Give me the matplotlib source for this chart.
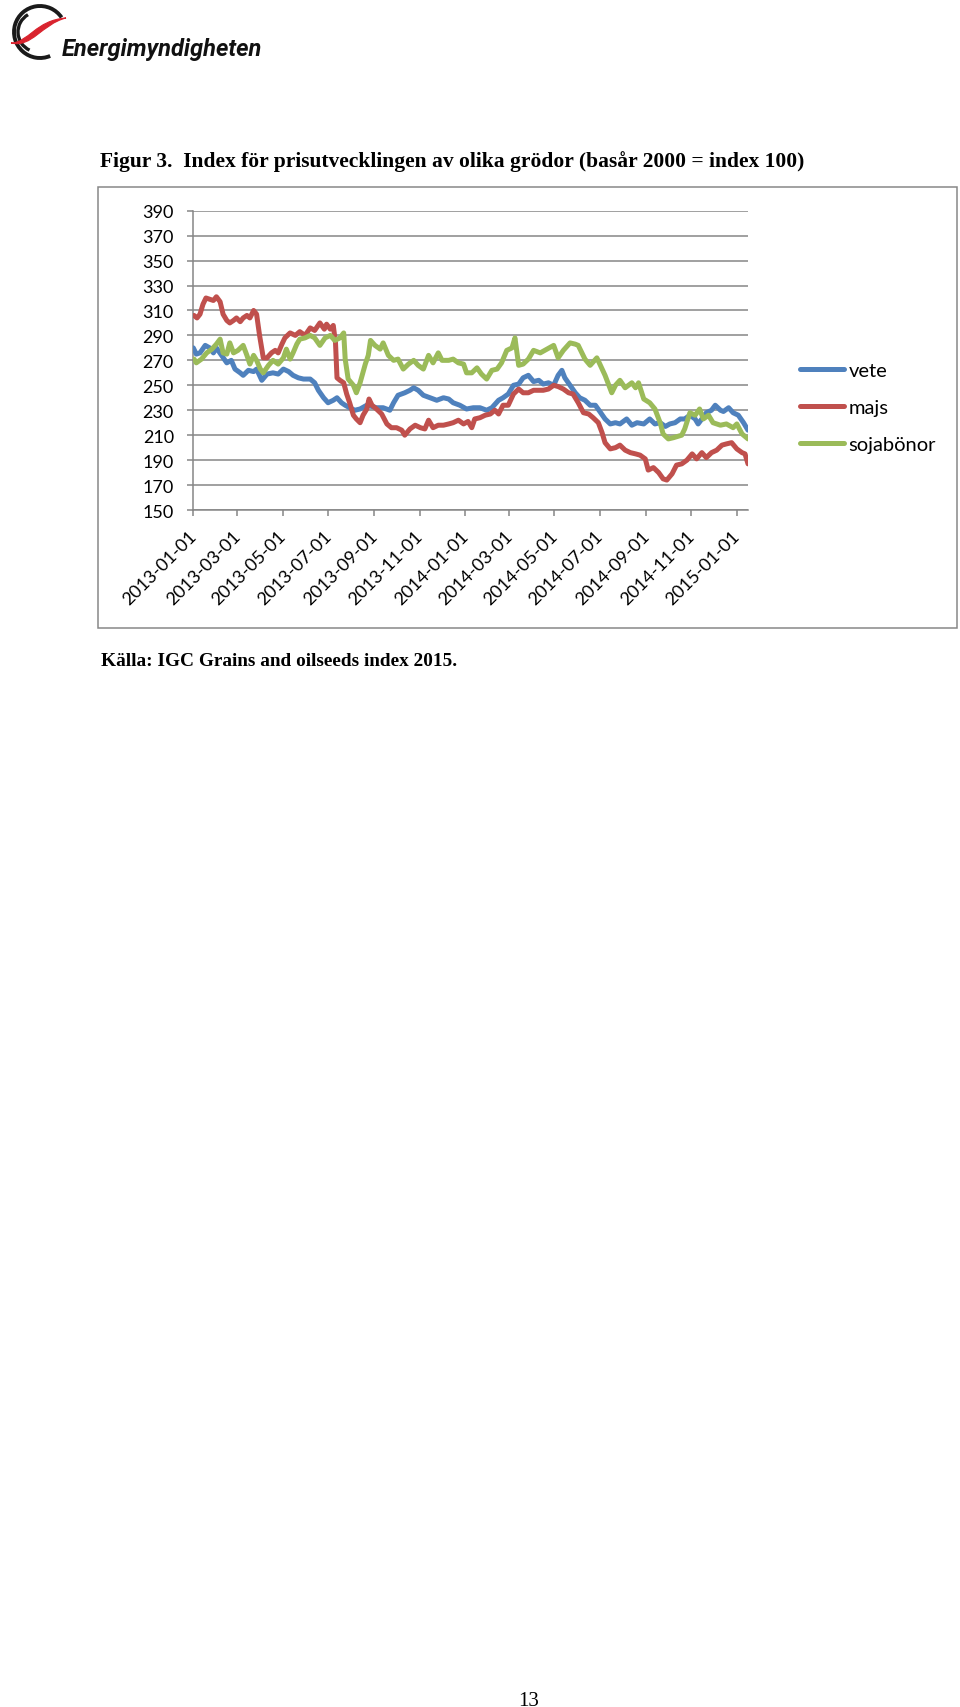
import matplotlib
matplotlib.use('Agg')
import matplotlib.pyplot as plt
import numpy as np
from matplotlib.patches import Rectangle, Arc, PathPatch
from matplotlib.path import Path
from matplotlib.transforms import ScaledTranslation

# ---------------- data ----------------
start_date = '2013-01-01'
series_names = ['vete', 'majs', 'sojabönor']

vete_day = [0,4,9,16,22,27,31,38,45,51,56,63,67,74,81,85,92,99,107,114,
            121,128,134,141,148,157,163,168,175,181,188,193,199,204,210,217,224,233,240,246,
            255,264,269,275,284,291,296,302,309,318,327,336,343,349,358,367,376,385,394,401,
            410,416,423,430,437,443,450,457,464,470,477,484,490,495,499,506,513,519,526,533,
            540,546,553,560,567,573,582,589,596,605,613,620,627,634,640,647,654,660,667,674,
            678,683,689,696,701,708,712,719,725,732,739,745]
vete = [280,275,276,282,280,276,280,274,268,270,263,260,258,262,261,263,254,259,260,259,
        263,261,258,256,255,255,252,246,240,236,238,240,236,234,232,230,231,234,233,232,
        232,230,236,242,244,246,248,246,242,240,238,240,239,236,234,231,232,232,230,232,
        238,240,243,250,251,256,258,253,254,251,252,250,258,262,256,250,244,240,238,234,
        234,229,223,219,220,219,223,218,220,219,223,219,220,217,219,220,223,223,226,223,
        219,223,228,230,234,230,229,232,228,226,220,214]

majs_day = [1,5,9,13,17,22,27,31,36,40,45,49,54,58,63,67,72,76,81,85,
            89,94,99,105,110,114,119,123,130,137,143,150,157,163,170,176,179,184,188,191,
            193,197,202,206,210,215,219,224,228,233,236,240,246,253,260,266,273,280,284,291,
            298,305,311,316,322,329,336,343,349,356,363,369,374,378,385,392,399,405,410,416,
            423,430,437,443,450,457,466,470,477,484,490,497,504,510,517,524,531,537,544,549,
            553,560,567,573,580,587,594,600,607,611,618,625,631,636,643,649,656,663,670,676,
            683,689,696,703,710,716,723,730,737,741,745]
majs = [306,304,307,315,320,319,318,321,317,307,302,300,302,304,301,304,306,304,310,307,
        290,272,272,276,278,276,283,288,292,290,293,290,296,294,300,295,299,295,298,284,
        256,254,252,243,236,226,223,220,226,231,239,234,231,227,219,216,216,214,210,215,
        218,216,215,222,216,218,218,219,220,222,219,221,216,223,224,226,227,230,227,234,
        234,243,247,244,244,246,246,246,247,250,249,247,244,243,236,228,227,224,220,212,
        204,199,200,202,198,196,195,194,191,182,184,180,175,174,179,186,187,190,195,191,
        196,192,196,198,202,203,204,199,196,195,187]

soja_day = [1,4,11,18,25,31,36,40,45,49,54,60,67,72,76,81,85,90,94,101,
            107,114,121,125,130,134,139,143,150,157,163,170,177,184,190,197,202,204,208,215,
            219,224,231,235,238,244,251,255,262,269,275,282,289,296,302,309,316,322,329,334,
            343,349,356,363,367,374,381,387,394,401,408,414,421,428,432,437,443,450,457,466,
            475,484,490,497,506,513,517,526,533,542,546,553,562,567,573,580,589,594,598,605,
            613,620,627,631,638,645,656,660,667,674,680,685,692,698,708,716,725,730,737,745]
soja = [271,268,271,276,279,283,287,276,275,284,276,278,282,274,267,274,270,263,260,266,
        270,267,272,279,271,276,283,287,288,290,288,282,288,290,286,288,292,271,255,250,
        244,252,267,274,286,282,279,284,274,270,271,263,267,270,266,263,274,268,276,270,
        270,271,268,267,260,260,264,259,255,262,263,268,278,280,288,266,267,271,278,276,
        279,282,272,278,284,283,282,271,266,272,267,258,244,250,254,248,252,248,252,239,
        236,231,220,211,207,208,210,215,228,226,231,223,226,220,218,219,216,219,211,207]

tick_dates = ['2013-01-01', '2013-03-01', '2013-05-01', '2013-07-01', '2013-09-01',
              '2013-11-01', '2014-01-01', '2014-03-01', '2014-05-01', '2014-07-01',
              '2014-09-01', '2014-11-01', '2015-01-01']
y_ticks = [150, 170, 190, 210, 230, 250, 270, 290, 310, 330, 350, 370, 390]
x_end = '2015-01-16'

title_text = 'Figur 3.  Index för prisutvecklingen av olika grödor (basår 2000 = index 100)'
source_text = 'Källa: IGC Grains and oilseeds index 2015.'
page_no = '13'
logo_text = 'Energimyndigheten'

colors = ['#4F81BD', '#C0504D', '#9BBB59']
grid_col = '#868686'

# ---------------- figure ----------------
W, H = 960, 1708
fig = plt.figure(figsize=(W / 100, H / 100), dpi=100)
fig.patch.set_facecolor('white')

def fx(px):
    return px / W

def fy(py):
    return 1 - py / H

ax_l, ax_r, ax_t, ax_b = 193.3, 748.0, 211.7, 511.0
ax = fig.add_axes([fx(ax_l), fy(ax_b), fx(ax_r - ax_l), (ax_b - ax_t) / H])

t0 = np.datetime64(start_date)
lines = []
for days, vals, c, name in [(vete_day, vete, colors[0], series_names[0]),
                            (majs_day, majs, colors[1], series_names[1]),
                            (soja_day, soja, colors[2], series_names[2])]:
    d = t0 + np.array(days, dtype='timedelta64[D]')
    ln, = ax.plot(d, vals, color=c, lw=3.6, solid_joinstyle='round',
                  solid_capstyle='round', label=name, zorder=3)
    lines.append(ln)

ax.set_xlim(t0, np.datetime64(x_end))
ax.set_ylim(150, 390)
ax.set_yticks(y_ticks)
ax.set_yticklabels([str(v) for v in y_ticks])
ax.set_xticks([np.datetime64(t) for t in tick_dates])
ax.set_xticklabels(tick_dates)

for s in ['top', 'right']:
    ax.spines[s].set_visible(False)
for s in ['left', 'bottom']:
    ax.spines[s].set_color(grid_col)
    ax.spines[s].set_linewidth(1.1)
ax.yaxis.grid(True, color=grid_col, lw=1.1)
ax.set_axisbelow(True)
ax.tick_params(axis='both', direction='out', length=4.5, width=1.1, color=grid_col,
               labelcolor='black')
ax.tick_params(axis='y', pad=9.5, labelsize=13)
ax.tick_params(axis='x', pad=8, labelsize=13)
for lab in ax.get_yticklabels():
    lab.set_fontfamily('Lato')
for lab in ax.get_xticklabels():
    lab.set_fontfamily('Lato')
    lab.set_rotation(45)
    lab.set_ha('right')
    lab.set_va('top')
    lab.set_rotation_mode('anchor')
    lab.set_transform(lab.get_transform() + ScaledTranslation(-5 / 100, 0, fig.dpi_scale_trans))

# legend
fig.legend(lines, series_names, loc='center left',
           bbox_to_anchor=(fx(800), fy(408.3)), frameon=False, borderpad=0,
           borderaxespad=0, handlelength=2.2, handletextpad=0.2, labelspacing=1.0,
           prop={'family': 'Lato', 'size': 14.5})

# chart frame
fig.add_artist(Rectangle((fx(98.3), fy(628.5)), fx(956.7 - 98.3), (628.5 - 188.3) / H,
                         transform=fig.transFigure, fill=False, ec='#878787', lw=1.1))

# texts
fig.text(fx(100.5), fy(166.7), title_text, family='Liberation Serif', weight='bold',
         size=15.5, ha='left', va='baseline')
fig.text(fx(100.7), fy(665.7), source_text, family='Liberation Serif', weight='bold',
         size=13.9, ha='left', va='baseline')
fig.text(fx(529), fy(1706), page_no, family='Liberation Serif', size=15,
         ha='center', va='baseline')

# logo
lax = fig.add_axes([0, fy(65), fx(100), 65 / H])
lax.set_xlim(0, 100)
lax.set_ylim(0, 65)
lax.axis('off')
lax.add_patch(Arc((40, 32), 52, 52, theta1=34, theta2=293, color='#1a1a1a', lw=2.8))
lax.add_patch(Arc((38, 32), 40, 40, theta1=120, theta2=245, color='#1a1a1a', lw=2.4))
verts = [(11, 21), (28, 21), (36, 44), (66, 46),
         (42, 40), (32, 16), (11, 21)]
codes = [Path.MOVETO, Path.CURVE4, Path.CURVE4, Path.CURVE4,
         Path.CURVE4, Path.CURVE4, Path.CURVE4]
lax.add_patch(PathPatch(Path(verts, codes), fc='#D9232E', ec='#D9232E', lw=0.8))
fig.text(fx(62), fy(56), logo_text, family='Roboto', weight='bold', style='italic',
         size=17, ha='left', va='baseline', color='#111111')

fig.savefig('out.png', dpi=100, facecolor='white')
